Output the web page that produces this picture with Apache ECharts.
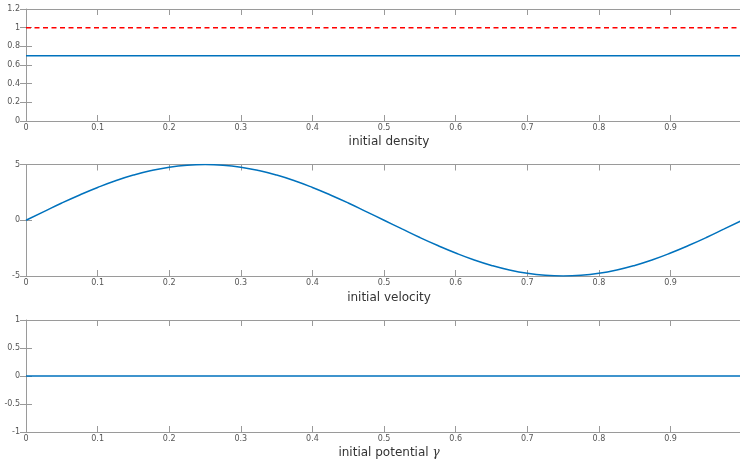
<!DOCTYPE html>
<html>
<head>
<meta charset="utf-8">
<script src="https://cdn.jsdelivr.net/npm/echarts@6/dist/echarts.min.js"></script>
<style>
html,body{margin:0;padding:0;background:#fff;}
#c{width:740px;height:462px;}
</style>
</head>
<body>
<div id="c"></div>
<script>
// ---- data ----
const xPositions = [0,0.025,0.05,0.075,0.1,0.125,0.15,0.175,0.2,0.225,0.25,0.275,0.3,0.325,0.35,0.375,0.4,0.425,0.45,0.475,0.5,0.525,0.55,0.575,0.6,0.625,0.65,0.675,0.7,0.725,0.75,0.775,0.8,0.825,0.85,0.875,0.9,0.925,0.95,0.975,1];
const densityValues = [0.7,0.7,0.7,0.7,0.7,0.7,0.7,0.7,0.7,0.7,0.7,0.7,0.7,0.7,0.7,0.7,0.7,0.7,0.7,0.7,0.7,0.7,0.7,0.7,0.7,0.7,0.7,0.7,0.7,0.7,0.7,0.7,0.7,0.7,0.7,0.7,0.7,0.7,0.7,0.7,0.7];
const densityReference = [1,1,1,1,1,1,1,1,1,1,1,1,1,1,1,1,1,1,1,1,1,1,1,1,1,1,1,1,1,1,1,1,1,1,1,1,1,1,1,1,1];
const velocityValues = [0,0.78,1.55,2.27,2.94,3.54,4.05,4.46,4.76,4.94,5,4.94,4.76,4.46,4.05,3.54,2.94,2.27,1.55,0.78,0,-0.78,-1.55,-2.27,-2.94,-3.54,-4.05,-4.46,-4.76,-4.94,-5,-4.94,-4.76,-4.46,-4.05,-3.54,-2.94,-2.27,-1.55,-0.78,0];
const potentialValues = [0,0,0,0,0,0,0,0,0,0,0,0,0,0,0,0,0,0,0,0,0,0,0,0,0,0,0,0,0,0,0,0,0,0,0,0,0,0,0,0,0];
const panelTitles = ['initial density', 'initial velocity', 'initial potential '];
const yRanges = [[0,1.2,0.2],[-5,5,5],[-1,1,0.5]];
const xTickStep = 0.1;
const xMax = 0.997;

// ---- styling ----
const axisColor = '#9a9a9a';
const labelColor = '#555';
const fontFamily = 'DejaVu Sans';
const blue = '#0072BD';
const red = '#ff0000';

const grids = [
  {left:26, right:0, top:9, height:112},
  {left:26, right:0, top:164.5, height:111.5},
  {left:26, right:0, top:320, height:112}
];

const zip = (ys) => xPositions.map((x,i)=>[x, ys[i]]);

const xAxes = [], yAxes = [], series = [];
grids.forEach((g, i) => {
  xAxes.push({
    type:'value', gridIndex:i, min:0, max:xMax, interval:xTickStep,
    axisLine:{show:true, onZero:false, lineStyle:{color:axisColor, width:1}},
    axisTick:{show:true, inside:true, length:6, lineStyle:{color:axisColor}},
    axisLabel:{show:true, color:labelColor, fontSize:8, fontFamily, margin:3, showMaxLabel:false},
    splitLine:{show:false}
  });
  xAxes.push({
    type:'value', gridIndex:i, position:'top', min:0, max:xMax, interval:xTickStep,
    axisLine:{show:true, onZero:false, lineStyle:{color:axisColor, width:1}},
    axisTick:{show:true, inside:true, length:6, lineStyle:{color:axisColor}},
    axisLabel:{show:false}, splitLine:{show:false}
  });
  const [mn, mx, iv] = yRanges[i];
  yAxes.push({
    type:'value', gridIndex:i, min:mn, max:mx, interval:iv,
    axisLine:{show:true, onZero:false, lineStyle:{color:axisColor, width:1}},
    axisTick:{show:true, inside:true, length:6, lineStyle:{color:axisColor}},
    axisLabel:{show:true, color:labelColor, fontSize:8, fontFamily, margin:6},
    splitLine:{show:false}
  });
  yAxes.push({
    type:'value', gridIndex:i, position:'right', min:mn, max:mx, interval:iv,
    axisLine:{show:false},
    axisTick:{show:true, inside:true, length:6, lineStyle:{color:axisColor}},
    axisLabel:{show:false}, splitLine:{show:false}
  });
});

series.push({type:'line', xAxisIndex:0, yAxisIndex:0, data:zip(densityValues), showSymbol:false, lineStyle:{color:blue, width:1.5}, z:3});
series.push({type:'line', xAxisIndex:0, yAxisIndex:0, data:zip(densityReference), showSymbol:false, lineStyle:{color:red, width:1.5, type:[5,3.5]}, z:3});
series.push({type:'line', xAxisIndex:2, yAxisIndex:2, data:zip(velocityValues), showSymbol:false, smooth:true, lineStyle:{color:blue, width:1.5}, z:3});
series.push({type:'line', xAxisIndex:4, yAxisIndex:4, data:zip(potentialValues), showSymbol:false, lineStyle:{color:blue, width:1.5}, z:3});

const titleTops = [130.5, 286.5, 442];
const titles = panelTitles.map((t, i) => ({
  text: i === 2 ? t + '{g|γ}' : t,
  left: 384, top: titleTops[i], textAlign:'center',
  textStyle:{fontSize:12, fontWeight:'normal', color:'#333', fontFamily,
    rich:{g:{fontSize:12, fontStyle:'italic', color:'#333', fontFamily:'DejaVu Serif'}}}
}));

const chart = echarts.init(document.getElementById('c'), null, {renderer:'canvas'});
chart.setOption({
  animation:false,
  backgroundColor:'#fff',
  title: titles,
  grid: grids,
  xAxis: xAxes,
  yAxis: yAxes,
  series: series
});
</script>
</body>
</html>
